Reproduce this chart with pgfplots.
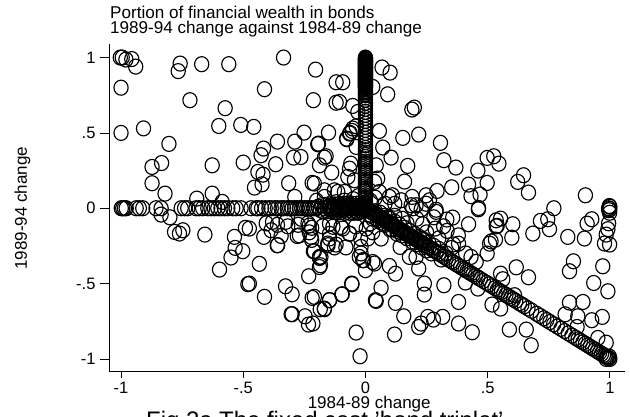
\documentclass[border=0pt]{standalone}
\usepackage{pgfplots}
\pgfplotsset{compat=1.18}
\usepackage{fontspec}
\setmainfont{Liberation Sans}
\begin{document}
\begin{tikzpicture}[x=1pt,y=1pt]
\useasboundingbox (0,0) rectangle (630,417);
\begin{axis}[
  at={(109.3pt,46pt)}, anchor=south west,
  scale only axis, width=515.7pt, height=327pt,
  xmin=-1.048, xmax=1.062, ymin=-1.08, ymax=1.09,
  axis x line*=bottom, axis y line*=left,
  axis line style={-,line width=0.8pt,black},
  xtick={-1,-.5,0,.5,1}, xticklabels={-1,-.5,0,.5,1},
  ytick={-1,-.5,0,.5,1}, yticklabels={-1,-.5,0,.5,1},
  tick align=outside, tick style={black,line width=0.7pt},
  xtick style={/pgfplots/major tick length=7pt},
  ytick style={/pgfplots/major tick length=9pt},
  tick label style={font=\fontsize{16.5}{17}\selectfont},
  xticklabel style={yshift=-3pt},
  yticklabel style={xshift=-6pt},
  xlabel={1984-89 change}, ylabel={1989-94 change},
  xlabel style={at={(axis description cs:0.504,0)},anchor=base,yshift=-38pt,font=\fontsize{17}{17}\selectfont},
  ylabel style={at={(axis description cs:0,0.498)},anchor=base,yshift=82.3pt,font=\fontsize{17}{17}\selectfont},
  clip=false,
]
\addplot[only marks, mark=o, mark size=7.1pt, mark options={line width=1.15pt,black,yscale=1.06}] table {
x y
-1.003 1.0
-.995 1.0
-.98 .987
-.956 .99
-.94 .94
-1.0 .80
-1.0 .5
-.908 .53
-.804 .427
-.834 .30
-.873 .274
-.873 .166
-.82 .097
-.758 .96
-.766 .91
-.67 .956
-.559 .956
-.718 .717
-.574 .664
-.6 .546
-.51 .553
-.457 .54
-.627 .285
-.50 .303
-.627 .097
-.69 .064
-.586 .042
-.417 .396
-.427 .352
-.36 .442
-.289 .442
-.251 .502
-.294 .336
-.264 .34
-.367 .292
-.44 .241
-.419 .223
-.423 .159
-.454 .137
-.314 .166
-.218 .168
-.289 .075
-.335 1.0
-.413 .79
-.204 .92
-.213 .717
-.195 .425
-.188 .285
-.12 .836
-.093 .836
-.12 .70
-.106 .705
-.052 .679
.068 .934
.101 .90
.03 .805
.091 .756
-.031 .639
-.192 .429
-.151 .502
-.077 .462
-.055 .513
-.065 .496
.057 .513
.071 .403
-.038 .544
.19 .655
.2 .668
.153 .467
.218 .489
.307 .434
.321 .319
.37 .27
.105 .336
.173 .281
.16 .177
.46 .25
.498 .334
.525 .345
.546 .296
.647 .219
.623 .175
.667 .104
.422 .157
.498 .168
.432 .08
.469 .091
.353 .139
.293 .115
.90 .086
.771 0
.995 0
1.0 .01
1.0 -.005
.998 .015
-.063 .5
-.076 .458
-.052 .529
-.038 .407
-.161 .345
-.168 .336
-.138 .237
-.065 .263
-.06 .296
-.045 .186
-.072 .208
.044 .285
.05 .197
.037 .175
-.168 .119
-.113 .108
-.086 .108
-.209 .164
.057 .108
.11 .086
.098 .075
.191 .075
.248 .086
.262 .053
.248 .03
.187 .02
.207 .02
.289 -.01
.146 .053
.463 .002
.422 -.106
.357 -.062
.333 -.075
.334 -.15
.285 -.135
.289 -.024
.234 -.106
.194 0
.228 -.008
.535 -.08
.535 -.12
.514 -.22
.462 -.007
.996 -.013
.999 -.03
.553 -.069
.603 -.106
.539 -.117
.599 -.195
.532 -.208
.508 -.235
.498 -.301
.381 -.235
.353 -.263
.685 -.168
.716 -.084
.746 -.073
.753 -.139
.828 -.19
.896 -.201
.907 -.102
.926 -.073
.992 -.139
.985 -.175
.978 -.234
.999 -.241
.995 -.1
.971 -.385
.851 -.352
.835 -.418
.617 -.392
.667 -.458
.553 -.434
.562 -.471
.934 -.496
.992 -.551
.835 -.626
.89 -.622
.817 -.704
.869 -.717
.969 -.721
.926 -.743
.866 -.788
.951 -.861
.985 -.892
.589 -.805
.658 -.805
.678 -.909
.437 -.823
.381 -.765
.381 -.622
.321 -.511
.241 -.5
.241 -.573
.218 -.4
.123 -.434
.098 -.383
.037 -.367
0 -.411
-.007 -.345
-.025 -.323
-.018 -.257
.064 -.529
.044 -.615
.123 -.628
.157 -.717
.316 -.721
.278 -.739
.255 -.721
.228 -.765
.218 -.788
.119 -.838
-.038 -.825
-.022 -.982
-.055 -.504
-.095 -.571
-.147 -.61
-.168 -.67
-.209 -.588
-.215 -.765
-.184 -.378
-.188 -.323
-.12 -.241
-.147 -.201
.18 -.323
.207 -.323
.235 -.212
.142 -.257
.064 -.201
.01 -.201
-.065 -.168
-.1 -.124
-.147 -.102
.003 -.135
.453 -.356
.432 -.323
.409 -.493
.46 -.533
.518 -.639
.553 -.666
.61 -.577
-.836 -.042
-.8 -.06
-.781 -.157
-.761 -.168
-.747 -.146
-.657 -.175
-.597 -.407
-.55 -.327
-.533 -.263
-.536 -.19
-.502 -.285
-.491 -.13
-.481 -.504
-.434 -.369
-.413 -.588
-.416 -.19
-.386 -.146
-.345 -.184
-.361 -.246
-.327 -.518
-.3 -.571
-.3 -.703
-.304 -.703
-.247 -.717
-.233 -.772
-.218 -.595
-.232 -.451
-.279 -.184
-.222 -.19
-.209 -.285
-.188 -.33
-.188 -.39
-.185 -.67
-.325 -.09
-.38 -.09
-.263 -.07
-.235 -.1
-.22 -.13
-.359 -.245
-.213 -.285
-.182 -.323
-.168 -.666
-.147 -.61
-.097 -.573
-.056 -.5
.041 -.61
-.018 -.3
-.011 -.345
.03 -.357
-.127 -.26
-.153 -.245
-.475 -.5
-.475 -.135
-.406 -.1
-.36 -.11
-.318 -.12
-.275 -.11
-.23 -.115
-.175 -.12
-.133 -.123
-.093 -.135
-.27 -.18
-.23 -.16
-.22 -.21
-.147 -.17
-.065 -.17
-.154 -.234
-.08 -.26
-.02 -.2
-.04 -.12
.02 -.1
.06 -.09
.1 -.14
.13 -.17
.03 -.16
.08 -.05
.12 -.05
.15 -.07
.17 -.1
.21 -.07
.25 -.16
.3 -.2
.28 -.06
.32 -.12
.38 -.18
.41 -.3
.36 -.24
-.2 .05
-.168 .075
-.127 .119
-.086 .05
-.05 .06
-.03 .08
-.12 .04
.04 .07
.02 .05
.08 .03
.12 .03
-.999 0
-.993 0
-.986 0
-.979 0
-.938 0
-.925 0
-.911 0
-.857 0
-.836 0
-.754 0
-.74 0
-.727 0
-.693 0
-.68 0
-.666 0
-.645 0
-.632 0
-.618 0
-.604 0
-.591 0
-.577 0
-.563 0
-.543 0
-.529 0
-.509 0
-.468 0
-.447 0
-.44 0
-.425 0
-.41 0
-.395 0
-.385 0
-.37 0
-.36 0
-.345 0
-.335 0
-.32 0
-.31 0
-.3 0
-.29 0
-.28 0
-.27 0
-.26 0
-.25 0
-.24 0
-.23 0
-.22 0
-.21 0
-.2 0
-.193 .01
-.186 -.01
-.18 .02
-.174 -.02
-.168 0
-.162 .02
-.156 -.02
-.15 0
-.144 .02
-.138 -.02
-.132 0
-.126 .025
-.12 -.025
-.114 0
-.108 .025
-.102 -.025
-.096 0
-.09 .03
-.084 -.03
-.078 0
-.072 .03
-.066 -.03
-.06 0
-.054 .03
-.048 -.03
-.042 0
-.036 .03
-.03 -.03
-.024 0
-.018 .02
-.012 -.02
-.006 0
-.087 0
-.081 .015
-.075 -.015
-.069 0
-.063 .015
-.057 -.015
-.051 0
-.045 .015
-.039 -.015
-.033 0
-.027 .015
-.021 -.015
-.015 0
-.009 .01
-.003 -.01
-.147 .01
-.141 -.01
-.135 .01
-.129 -.01
-.123 .01
-.117 -.01
-.111 .01
-.105 -.01
-.099 .01
-.093 -.01
0 0
0 .006
0 .012
0 .02
0 .03
0 .04
0 .055
0 .07
0 .085
0 .1
0 .115
0 .13
0 .145
0 .16
0 .175
0 .19
0 .205
0 .22
0 .235
0 .25
0 .265
0 .28
0 .295
0 .31
0 .325
0 .34
0 .355
0 .37
0 .385
0 .4
0 .42
0 .44
0 .46
0 .48
0 .5
0 .52
0 .54
0 .56
0 .58
0 .6
0 .62
0 .64
0 .66
0 .68
0 .7
0 .72
0 .735
0 .75
0 .76
0 .77
0 .78
0 .79
0 .8
0 .804
0 .808
0 .812
0 .816
0 .82
0 .824
0 .828
0 .832
0 .836
0 .84
0 .844
0 .848
0 .852
0 .856
0 .86
0 .864
0 .868
0 .872
0 .876
0 .88
0 .884
0 .888
0 .892
0 .896
0 .9
0 .904
0 .908
0 .912
0 .916
0 .92
0 .924
0 .928
0 .932
0 .936
0 .94
0 .944
0 .948
0 .952
0 .956
0 .96
0 .964
0 .968
0 .972
0 .976
0 .98
0 .984
0 .988
0 .992
0 .996
0 1.0
.006 -.006
.012 -.012
.018 -.018
.024 -.024
.03 -.03
.036 -.036
.042 -.042
.048 -.048
.054 -.054
.06 -.06
.066 -.066
.072 -.072
.078 -.078
.084 -.084
.09 -.09
.096 -.096
.102 -.102
.108 -.108
.114 -.114
.12 -.12
.126 -.126
.132 -.132
.138 -.138
.144 -.144
.15 -.15
.156 -.156
.162 -.162
.168 -.168
.174 -.174
.18 -.18
.186 -.186
.192 -.192
.198 -.198
.204 -.204
.21 -.21
.216 -.216
.222 -.222
.228 -.228
.236 -.236
.244 -.244
.252 -.252
.26 -.26
.27 -.27
.28 -.28
.29 -.29
.3 -.3
.02 -.05
.03 -.07
.04 -.02
.05 -.08
.06 -.03
.07 -.1
.08 -.11
.09 -.06
.1 -.07
.11 -.14
.12 -.09
.13 -.15
.14 -.11
.15 -.18
.16 -.13
.17 -.2
.18 -.15
.19 -.22
.2 -.17
.21 -.24
.22 -.19
.23 -.26
.24 -.21
.25 -.28
.26 -.23
.27 -.3
.28 -.25
.3 -.27
.31 -.34
.33 -.3
.31 -.31
.322 -.322
.33 -.33
.34 -.34
.352 -.352
.36 -.36
.372 -.372
.38 -.38
.39 -.39
.4 -.4
.408 -.408
.416 -.416
.424 -.424
.432 -.432
.44 -.44
.45 -.45
.46 -.46
.47 -.47
.482 -.482
.495 -.495
.505 -.505
.518 -.518
.53 -.53
.54 -.54
.548 -.548
.556 -.556
.566 -.566
.575 -.575
.585 -.585
.595 -.595
.605 -.605
.615 -.615
.63 -.63
.64 -.64
.65 -.65
.665 -.665
.68 -.68
.7 -.7
.715 -.715
.73 -.73
.742 -.742
.755 -.755
.77 -.77
.785 -.785
.8 -.8
.815 -.815
.83 -.83
.845 -.845
.86 -.86
.87 -.87
.88 -.88
.89 -.89
.9 -.9
.91 -.91
.92 -.92
.93 -.93
.94 -.94
.95 -.95
.958 -.958
.966 -.966
.974 -.974
.98 -.98
.985 -.985
.99 -.99
.995 -.995
1.0 -1.0
.985 -1.0
.998 -.985
};
\end{axis}
\node[anchor=base west,inner sep=0pt,font=\fontsize{17.1}{17}\selectfont] at (110,398) {Portion of financial wealth in bonds};
\node[anchor=base west,inner sep=0pt,font=\fontsize{17.1}{17}\selectfont] at (110,383) {1989-94 change against 1984-89 change};
\node[anchor=base west,inner sep=0pt,font=\fontsize{23.9}{24}\selectfont] at (146,-12) {Fig 2a The fixed cost 'bond triplet'};
\end{tikzpicture}
\end{document}
